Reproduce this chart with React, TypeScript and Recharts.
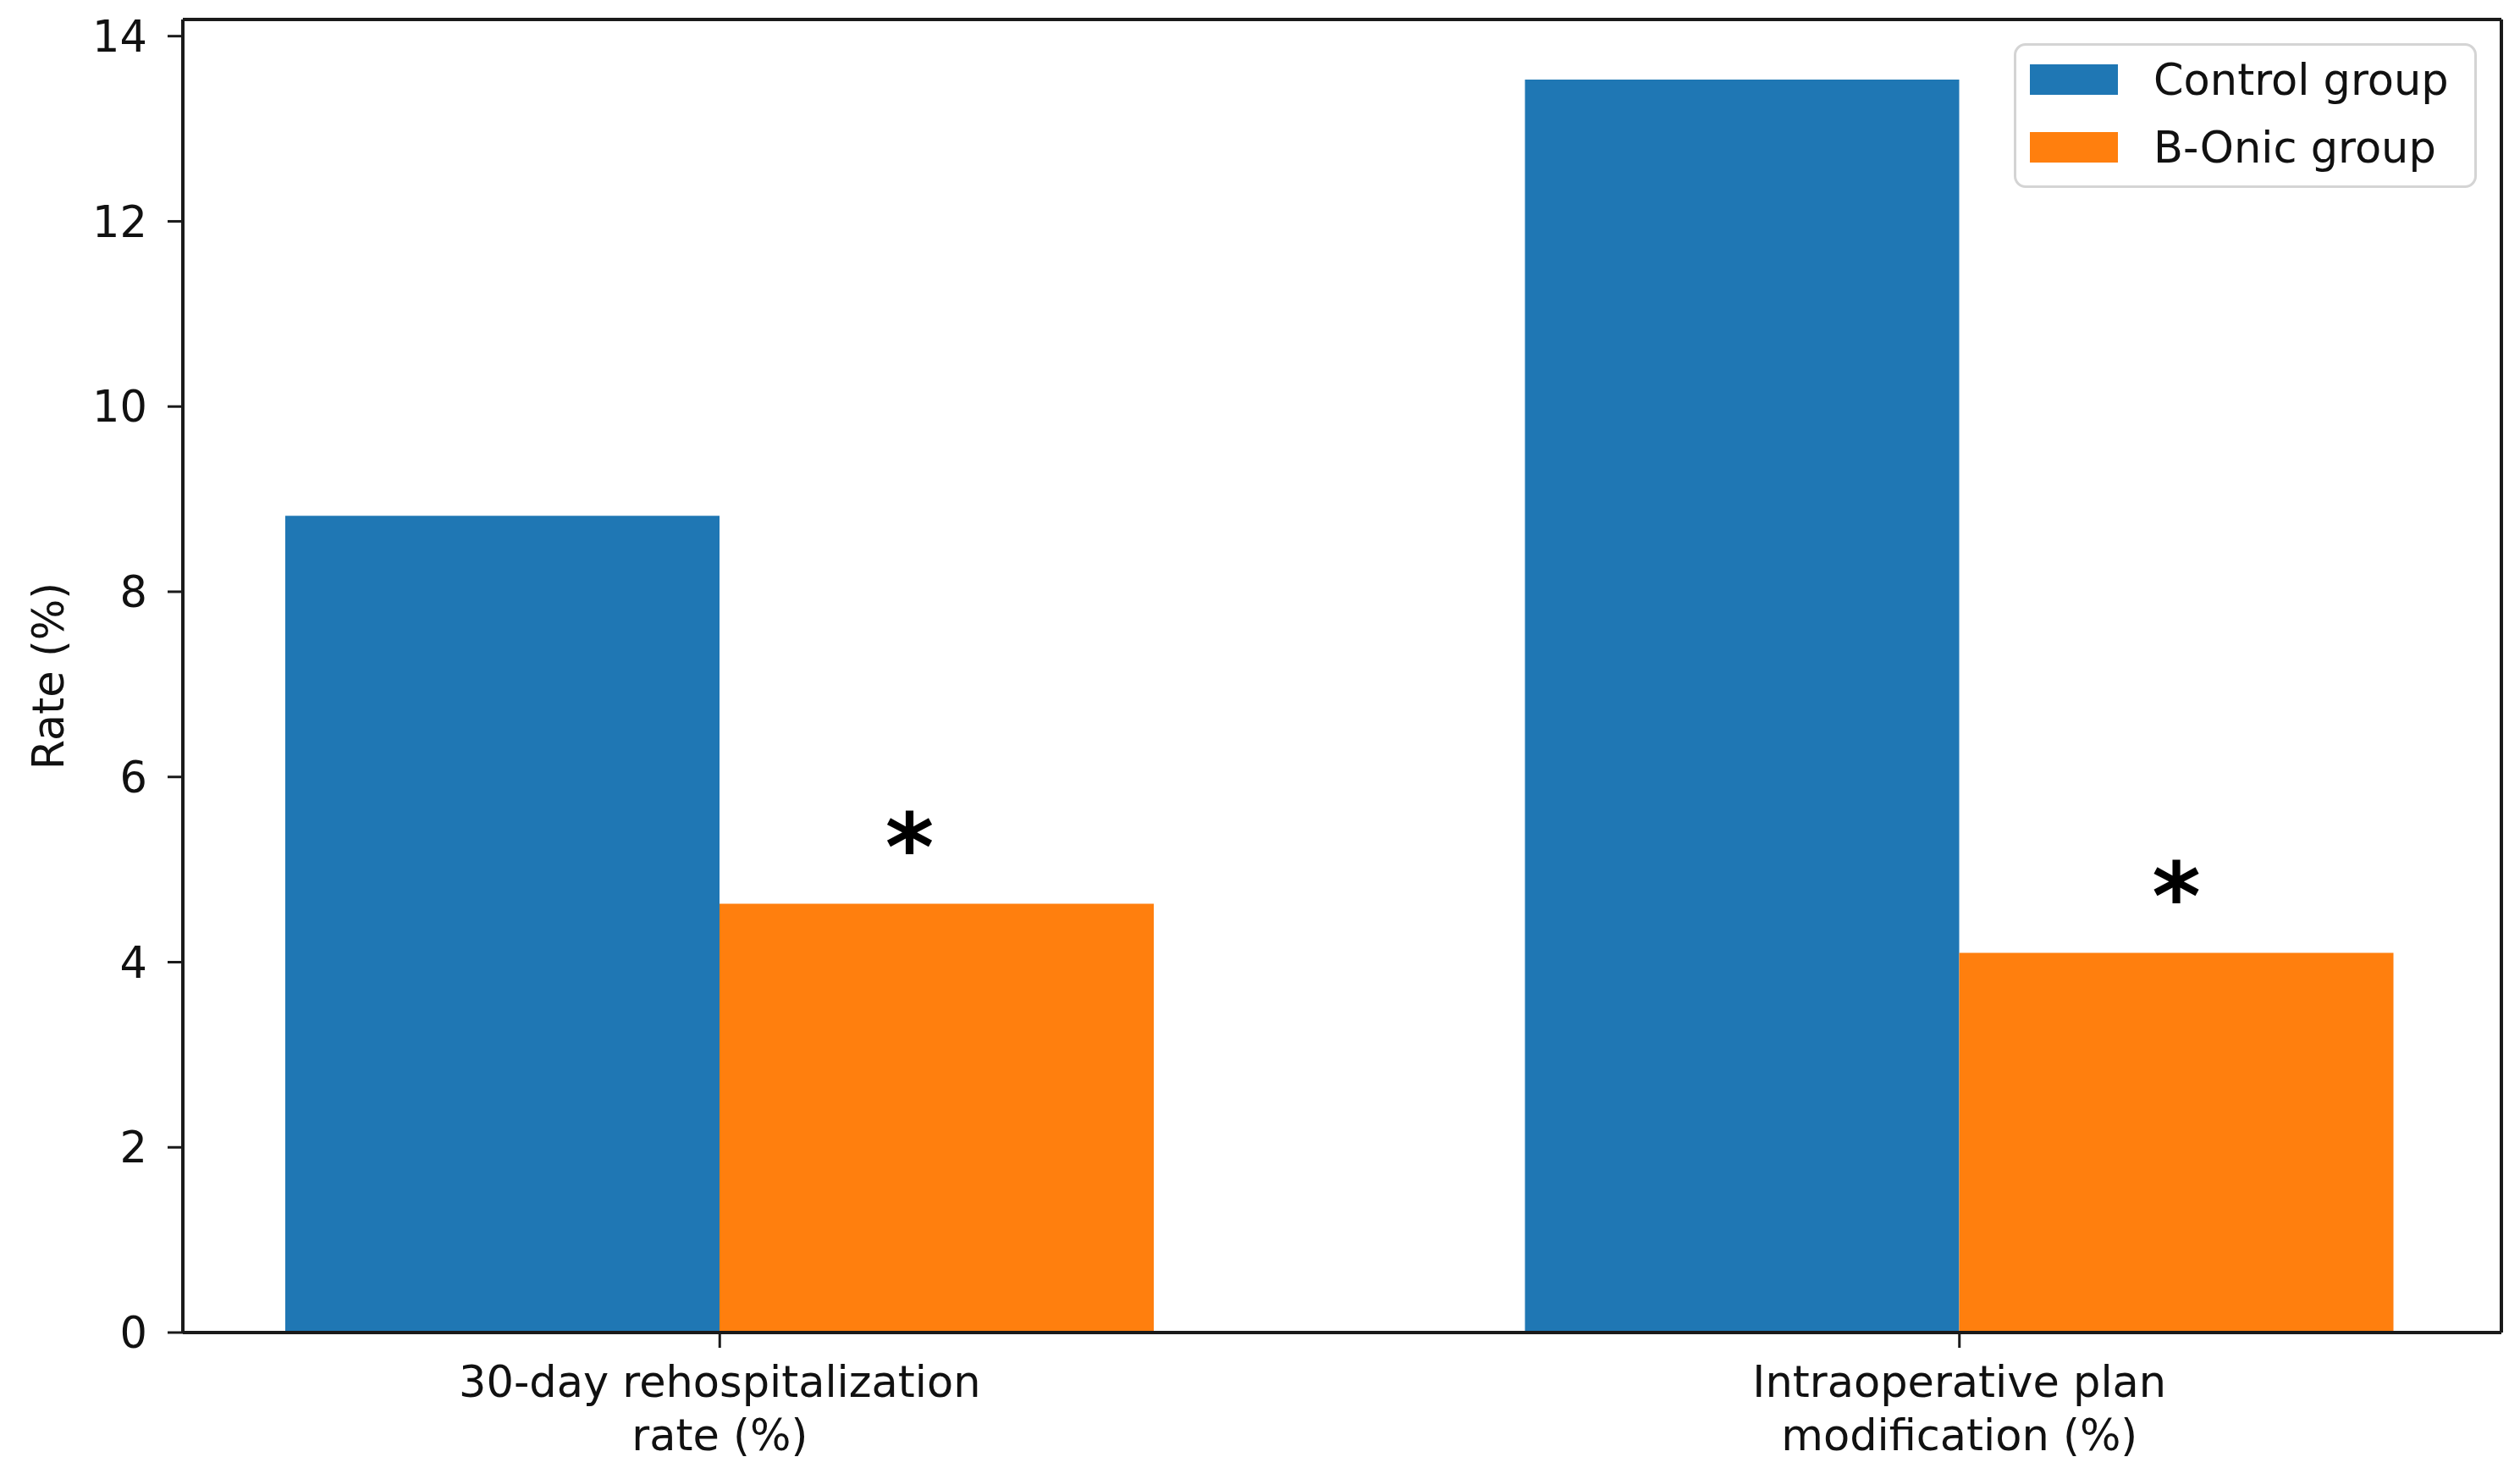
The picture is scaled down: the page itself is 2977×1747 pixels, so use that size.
import React from 'react';
import { BarChart, Bar, XAxis, YAxis, Legend, LabelList } from 'recharts';

const categories = ['30-day rehospitalization\nrate (%)', 'Intraoperative plan\nmodification (%)'];
const controlValues = [8.82, 13.53];
const bonicValues = [4.63, 4.1];
const significant = [true, true];
const yTicks = [0, 2, 4, 6, 8, 10, 12, 14];

const seriesNames = { control: 'Control group', bonic: 'B-Onic group' };
const colors = { control: '#1f77b4', bonic: '#ff7f0e' };

const data = categories.map((name, i) => ({
  name,
  control: controlValues[i],
  bonic: bonicValues[i],
}));

const FONT = '"DejaVu Sans", sans-serif';
const SPINE = '#1a1a1a';

const CategoryTick = (props: any) => {
  const { x, y, payload } = props;
  const lines = String(payload.value).split('\n');
  return (
    <text x={x} y={y} textAnchor="middle" fontSize={51} fontFamily={FONT} fill="#111">
      {lines.map((line, i) => (
        <tspan key={i} x={x} dy={i === 0 ? 40 : 63}>
          {line}
        </tspan>
      ))}
    </text>
  );
};

const StarLabel = (props: any) => {
  const { x, y, width, index } = props;
  if (!significant[index]) return null;
  // the first star sits a little left of its bar in the original
  const shift = index === 0 ? -32 : 0;
  return (
    <text
      x={x + width / 2 + shift}
      y={y - 28}
      textAnchor="middle"
      fontSize={110}
      fontWeight="bold"
      fontFamily={FONT}
      fill="#000"
    >
      *
    </text>
  );
};

const LegendBox = () => (
  <div
    style={{
      boxSizing: 'border-box',
      width: 547,
      height: 171,
      border: '3px solid #d4d4d4',
      borderRadius: 14,
      background: 'rgba(255,255,255,0.8)',
      paddingLeft: 16,
      fontFamily: FONT,
      fontSize: 51,
      color: '#111',
    }}
  >
    {(['control', 'bonic'] as const).map((k) => (
      <div key={k} style={{ display: 'flex', alignItems: 'center', height: 80 }}>
        <div style={{ width: 104, height: 36, background: colors[k], marginRight: 42 }} />
        <span style={{ lineHeight: '1' }}>{seriesNames[k]}</span>
      </div>
    ))}
  </div>
);

const App: React.FC = () => {
  return (
    <div style={{ position: 'absolute', left: 0, top: 0, width: 2977, height: 1747, background: '#fff' }}>
      <BarChart
        width={2977}
        height={1747}
        data={data}
        margin={{ top: 22, right: 21, bottom: 23, left: 0 }}
        barGap={0}
      >
        <XAxis
          dataKey="name"
          height={150}
          padding={{ left: -98, right: -92 }}
          tick={<CategoryTick />}
          tickSize={18}
          tickMargin={18}
          interval={0}
          axisLine={{ stroke: SPINE, strokeWidth: 4 }}
          tickLine={{ stroke: SPINE, strokeWidth: 3 }}
        />
        <XAxis
          xAxisId="top"
          dataKey="name"
          orientation="top"
          height={1}
          tick={false}
          tickLine={false}
          axisLine={{ stroke: SPINE, strokeWidth: 4 }}
        />
        <YAxis
          width={216}
          domain={[0, 14.18]}
          ticks={yTicks}
          interval={0}
          tickSize={18}
          tickMargin={24}
          tick={{ fontSize: 51, fontFamily: FONT, fill: '#111' }}
          axisLine={{ stroke: SPINE, strokeWidth: 4 }}
          tickLine={{ stroke: SPINE, strokeWidth: 3 }}
          label={{
            value: 'Rate (%)',
            angle: -90,
            position: 'insideLeft',
            offset: 57,
            style: { textAnchor: 'middle', fontSize: 51, fontFamily: FONT, fill: '#111' },
          }}
        />
        <YAxis
          yAxisId="right"
          orientation="right"
          width={1}
          tick={false}
          tickLine={false}
          axisLine={{ stroke: SPINE, strokeWidth: 4 }}
        />
        <Legend
          layout="vertical"
          align="center"
          verticalAlign="middle"
          content={<LegendBox />}
          wrapperStyle={{ left: 2379, top: 51, width: 547, height: 171 }}
        />
        <Bar dataKey="control" name={seriesNames.control} fill={colors.control} barSize={513} isAnimationActive={false} />
        <Bar dataKey="bonic" name={seriesNames.bonic} fill={colors.bonic} barSize={513} isAnimationActive={false}>
          <LabelList dataKey="bonic" content={<StarLabel />} />
        </Bar>
      </BarChart>
    </div>
  );
};

export default App;
